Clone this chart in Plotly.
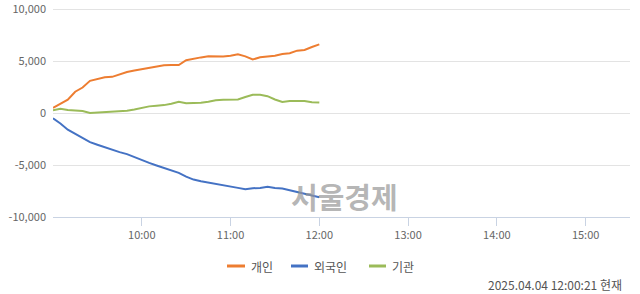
import plotly.graph_objects as go
import pandas as pd

# ---- data (5-minute samples, 09:00 - 12:00) ----
times = pd.date_range("2025-04-04 09:00", "2025-04-04 12:00", freq="5min").strftime("%Y-%m-%d %H:%M:%S").tolist()

individual = [500, 880, 1280, 2050, 2450, 3100, 3230, 3430, 3480, 3700,
              3950, 4080, 4200, 4300, 4480, 4600, 4620, 4620, 5080, 5250,
              5350, 5460, 5430, 5430, 5500, 5660, 5450, 5150, 5360, 5400,
              5500, 5680, 5750, 6000, 6070, 6350, 6600]
foreign = [-500, -1000, -1600, -2000, -2350, -2800, -3050, -3300, -3500, -3760,
           -3950, -4250, -4550, -4800, -5050, -5300, -5500, -5750, -6120, -6400,
           -6560, -6700, -6850, -6950, -7100, -7200, -7330, -7230, -7210, -7100,
           -7220, -7250, -7420, -7600, -7720, -7900, -8100]
institution = [260, 410, 300, 230, 200, 0, 40, 130, 190, 160,
               230, 330, 500, 640, 700, 760, 900, 1080, 930, 950,
               990, 1080, 1220, 1270, 1280, 1300, 1540, 1760, 1760, 1620,
               1300, 1060, 1150, 1130, 1160, 1030, 1000]

series_names = ["개인", "외국인", "기관"]
series_values = [individual, foreign, institution]
series_colors = ["#ed7d31", "#4472c4", "#9bbb59"]

y_ticks = [-10000, -5000, 0, 5000, 10000]
y_tick_labels = ["-10,000", "-5,000", "0", "5,000", "10,000"]
x_ticks = ["2025-04-04 %02d:00:00" % h for h in range(10, 16)]
x_tick_labels = ["%d:00" % h for h in range(10, 16)]
x_range = ["2025-04-04 09:00:00", "2025-04-04 15:30:00"]

timestamp_text = "2025.04.04 12:00:21 현재"
watermark_text = "서울경제"

FONT = "Noto Sans CJK KR, Malgun Gothic, sans-serif"
W, H = 640, 294
ML, MR, MT, MB = 53, 10, 8, 77
PW, PH = W - ML - MR, H - MT - MB


def px(x):
    return (x - ML) / PW


def py(y):
    return (H - MB - y) / PH


fig = go.Figure()
for name, vals, col in zip(series_names, series_values, series_colors):
    fig.add_trace(go.Scatter(x=times, y=vals, mode="lines", name=name,
                             line=dict(color=col, width=2), showlegend=False))

# custom legend
legend_items = [(227, 245, 249), (291, 308, 312), (369, 386, 390)]
shapes = []
annotations = []
for (x0, x1, tx), name, col in zip(legend_items, series_names, series_colors):
    shapes.append(dict(type="line", xref="paper", yref="paper",
                       x0=px(x0), x1=px(x1), y0=py(266), y1=py(266),
                       line=dict(color=col, width=3)))
    annotations.append(dict(text=name, xref="paper", yref="paper",
                            x=px(tx), y=py(266), xanchor="left", yanchor="middle",
                            showarrow=False, font=dict(family=FONT, size=12, color="#555555")))

annotations.append(dict(text=timestamp_text, xref="paper", yref="paper",
                        x=px(624), y=py(284), xanchor="right", yanchor="middle",
                        showarrow=False, font=dict(family=FONT, size=12, color="#555555")))
annotations.append(dict(text="<b>" + watermark_text + "</b>", xref="paper", yref="paper",
                        x=px(344), y=py(196), xanchor="center", yanchor="middle",
                        showarrow=False, font=dict(family=FONT, size=29, color="rgba(150,150,150,0.7)")))

fig.update_layout(
    width=W, height=H,
    margin=dict(l=ML, r=MR, t=MT, b=MB),
    paper_bgcolor="white", plot_bgcolor="white",
    font=dict(family=FONT, size=11, color="#666666"),
    shapes=shapes, annotations=annotations,
    xaxis=dict(type="date", range=x_range, tickvals=x_ticks, ticktext=x_tick_labels,
               showgrid=False, showline=True, linecolor="#c9d3e3", linewidth=1,
               ticks="outside", ticklen=8, tickcolor="#c9d3e3", automargin=False,
               tickfont=dict(family=FONT, size=11, color="#666666"), zeroline=False),
    yaxis=dict(range=[-10000, 10100], tickvals=y_ticks, ticktext=y_tick_labels,
               showgrid=True, gridcolor="#e3e3e3", gridwidth=1, zeroline=False,
               showline=False, ticks="", ticklabelstandoff=6, ticklabeloverflow="allow",
               automargin=False,
               tickfont=dict(family=FONT, size=11, color="#666666")),
)

fig.write_html("out.html")
